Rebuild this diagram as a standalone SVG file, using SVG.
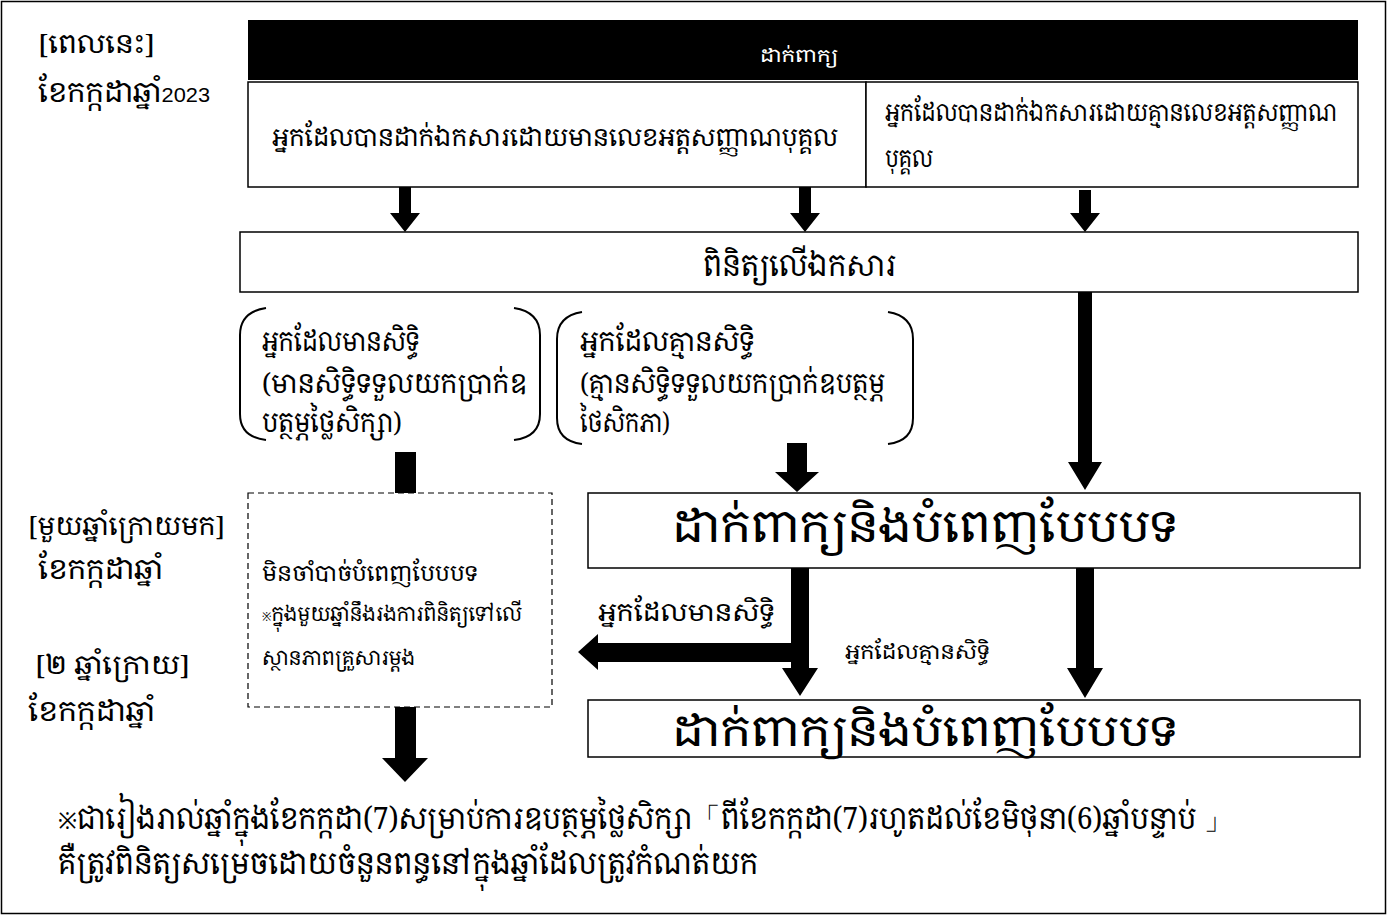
<svg xmlns="http://www.w3.org/2000/svg" width="1387" height="915" viewBox="0 0 1387 915">
<style>
text{font-family:"Noto Serif Khmer","Noto Sans Khmer","Khmer OS","Noto Sans","DejaVu Sans",sans-serif;fill:#000}
.box{fill:#fff;stroke:#000;stroke-width:1.5}
.br{fill:none;stroke:#000;stroke-width:2}
.ar{fill:#000}
</style>
<rect x="1.5" y="1.5" width="1384" height="912" fill="#fff" stroke="#000" stroke-width="1.5"/>
<g id="time-now">
<text x="38" y="53" font-size="26" textLength="117" lengthAdjust="spacingAndGlyphs">[ពេលនេះ]</text>
<text x="38" y="102" font-size="28" textLength="172" lengthAdjust="spacingAndGlyphs">ខែកក្កដាឆ្នាំ<tspan font-size="21" font-family="Liberation Sans">2023</tspan></text>
</g>
<g id="time-next">
<text x="28" y="535" font-size="26" textLength="197" lengthAdjust="spacingAndGlyphs">[មួយឆ្នាំក្រោយមក]</text>
<text x="38" y="579" font-size="28" textLength="125" lengthAdjust="spacingAndGlyphs">ខែកក្កដាឆ្នាំ</text>
</g>
<g id="time-two">
<text x="35" y="674" font-size="26" textLength="155" lengthAdjust="spacingAndGlyphs">[២ ឆ្នាំក្រោយ]</text>
<text x="28" y="721" font-size="28" textLength="127" lengthAdjust="spacingAndGlyphs">ខែកក្កដាឆ្នាំ</text>
</g>
<g id="apply-bar">
<rect x="248" y="20" width="1110" height="60" fill="#000"/>
<text x="760" y="62" font-size="18" textLength="78" lengthAdjust="spacingAndGlyphs" style="fill:#fff">ដាក់ពាក្យ</text>
</g>
<g id="with-id">
<rect class="box" x="248" y="82" width="618" height="105"/>
<text x="272" y="146" font-size="25" textLength="566" lengthAdjust="spacingAndGlyphs">អ្នកដែលបានដាក់ឯកសារដោយមានលេខអត្តសញ្ញាណបុគ្គល</text>
</g>
<g id="without-id">
<rect class="box" x="866" y="82" width="492" height="105"/>
<text x="885" y="121" font-size="24" textLength="452" lengthAdjust="spacingAndGlyphs">អ្នកដែលបានដាក់ឯកសារដោយគ្មានលេខអត្តសញ្ញាណ</text>
<text x="885" y="167" font-size="24" textLength="48" lengthAdjust="spacingAndGlyphs">បុគ្គល</text>
</g>
<g id="check">
<rect class="box" x="240" y="232" width="1118" height="60"/>
<text x="703" y="276" font-size="30" textLength="193" lengthAdjust="spacingAndGlyphs">ពិនិត្យលើឯកសារ</text>
</g>
<g id="eligible">
<path class="br" d="M266,308 Q240,312 240,335 L240,414 Q240,437 266,440"/>
<path class="br" d="M514,308 Q540,312 540,335 L540,414 Q540,437 514,440"/>
<text x="262" y="351" font-size="27" textLength="158" lengthAdjust="spacingAndGlyphs">អ្នកដែលមានសិទ្ធិ</text>
<text x="262" y="393" font-size="27" textLength="265" lengthAdjust="spacingAndGlyphs">(មានសិទ្ធិទទួលយកប្រាក់ឧ</text>
<text x="262" y="432" font-size="27" textLength="140" lengthAdjust="spacingAndGlyphs">បត្ថម្ភថ្លៃសិក្សា)</text>
</g>
<g id="ineligible">
<path class="br" d="M582,312 Q557,316 557,339 L557,418 Q557,441 582,444"/>
<path class="br" d="M888,312 Q913,316 913,339 L913,418 Q913,441 888,444"/>
<text x="580" y="351" font-size="27" textLength="175" lengthAdjust="spacingAndGlyphs">អ្នកដែលគ្មានសិទ្ធិ</text>
<text x="580" y="393" font-size="27" textLength="305" lengthAdjust="spacingAndGlyphs">(គ្មានសិទ្ធិទទួលយកប្រាក់ឧបត្ថម្ភ</text>
<text x="580" y="432" font-size="27" textLength="90" lengthAdjust="spacingAndGlyphs">ថៃសិកភា)</text>
</g>
<g id="no-form">
<rect x="248" y="493" width="304" height="214" fill="#fff" stroke="#000" stroke-width="1.2" stroke-dasharray="6,4"/>
<text x="262" y="581" font-size="22" textLength="216" lengthAdjust="spacingAndGlyphs">មិនចាំបាច់បំពេញបែបបទ</text>
<text x="262" y="621" font-size="21" textLength="260" lengthAdjust="spacingAndGlyphs"><tspan font-size="12">※</tspan>ក្នុងមួយឆ្នាំនឹងរងការពិនិត្យទៅលើ</text>
<text x="262" y="665" font-size="21" textLength="153" lengthAdjust="spacingAndGlyphs">ស្ថានភាពគ្រួសារម្តង</text>
</g>
<g id="form1">
<rect class="box" x="588" y="493" width="772" height="75"/>
<text x="672" y="542" font-size="44" textLength="506" lengthAdjust="spacingAndGlyphs">ដាក់ពាក្យនិងបំពេញបែបបទ</text>
</g>
<g id="form2">
<rect class="box" x="588" y="700" width="772" height="57"/>
<text x="672" y="746" font-size="42" textLength="506" lengthAdjust="spacingAndGlyphs">ដាក់ពាក្យនិងបំពេញបែបបទ</text>
</g>
<g id="connectors">
<polygon class="ar" points="399,187 411,187 411,213 420,213 405,232 390,213 399,213"/>
<polygon class="ar" points="799,187 811,187 811,213 820,213 805,232 790,213 799,213"/>
<polygon class="ar" points="1079,190 1091,190 1091,213 1100,213 1085,232 1070,213 1079,213"/>
<rect class="ar" x="395" y="452" width="21" height="41"/>
<polygon class="ar" points="787,443 807,443 807,472 819,472 797,492 775,472 787,472"/>
<polygon class="ar" points="1078,292 1092,292 1092,462 1102,462 1085,490 1068,462 1078,462"/>
<polygon class="ar" points="791,568 809,568 809,668 818,668 800,696 782,668 791,668 791,662 598,662 598,670 578,652 598,634 598,643 791,643"/>
<polygon class="ar" points="1076,568 1094,568 1094,668 1103,668 1085,698 1067,668 1076,668"/>
<polygon class="ar" points="395,707 416,707 416,758 428,758 405,782 382,758 395,758"/>
<text x="598" y="621" font-size="24" textLength="177" lengthAdjust="spacingAndGlyphs">អ្នកដែលមានសិទ្ធិ</text>
<text x="845" y="659" font-size="20" textLength="145" lengthAdjust="spacingAndGlyphs">អ្នកដែលគ្មានសិទ្ធិ</text>
</g>
<g id="note">
<text x="58" y="829" font-size="30" textLength="1174" lengthAdjust="spacingAndGlyphs"><tspan font-size="24">※</tspan>ជារៀងរាល់ឆ្នាំក្នុងខែកក្កដា(7)សម្រាប់ការឧបត្ថម្ភថ្លៃសិក្សា「ពីខែកក្កដា(7)រហូតដល់ខែមិថុនា(6)ឆ្នាំបន្ទាប់ 」</text>
<text x="58" y="874" font-size="30" textLength="700" lengthAdjust="spacingAndGlyphs">គឺត្រូវពិនិត្យសម្រេចដោយចំនួនពន្ធនៅក្នុងឆ្នាំដែលត្រូវកំណត់យក</text>
</g>
</svg>
